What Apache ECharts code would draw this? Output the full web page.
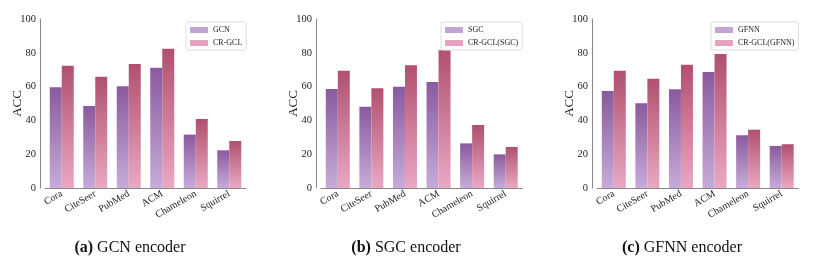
<!DOCTYPE html>
<html>
<head>
<meta charset="utf-8">
<script src="https://cdn.jsdelivr.net/npm/echarts@6/dist/echarts.min.js"></script>
<style>
html,body{margin:0;padding:0;background:#fff;}
#c{width:814px;height:264px;}
</style>
</head>
<body>
<div id="c"></div>
<script>
const categories = ['Cora', 'CiteSeer', 'PubMed', 'ACM', 'Chameleon', 'Squirrel'];
const yTicks = [0, 20, 40, 60, 80, 100];

const gcnBase = [59.6, 48.5, 60.2, 71.2, 31.6, 22.3];
const gcnOurs = [72.4, 65.9, 73.4, 82.4, 40.8, 27.8];
const sgcBase = [58.6, 48.1, 59.9, 62.7, 26.4, 19.9];
const sgcOurs = [69.4, 59.0, 72.6, 81.5, 37.3, 24.3];
const gfnnBase = [57.4, 50.1, 58.4, 68.6, 31.2, 24.9];
const gfnnOurs = [69.4, 64.7, 73.0, 79.3, 34.5, 25.9];

const baseNames = ['GCN', 'SGC', 'GFNN'];
const oursNames = ['CR-GCL', 'CR-GCL(SGC)', 'CR-GCL(GFNN)'];
const captionTags = ['(a)', '(b)', '(c)'];
const captionTexts = ['GCN encoder', 'SGC encoder', 'GFNN encoder'];

const panels = [
  {base: gcnBase, ours: gcnOurs, left: 45, right: 246, legendLeft: 186, legendW: 61, cap: 130},
  {base: sgcBase, ours: sgcOurs, left: 321, right: 522.5, legendLeft: 441, legendW: 83, cap: 406},
  {base: gfnnBase, ours: gfnnOurs, left: 597, right: 798.5, legendLeft: 711, legendW: 92, cap: 682}
];

const serif = '"Liberation Serif", "DejaVu Serif", serif';
const purpleGrad = () => new echarts.graphic.LinearGradient(0, 0, 0, 1, [
  {offset: 0, color: '#8a5a9e'}, {offset: 1, color: '#c7abd9'}]);
const pinkGrad = () => new echarts.graphic.LinearGradient(0, 0, 0, 1, [
  {offset: 0, color: '#b0506e'}, {offset: 1, color: '#eaa8c2'}]);

const grid = [], xAxis = [], yAxis = [], series = [], legend = [], graphic = [];
panels.forEach((p, i) => {
  grid.push({left: p.left, width: p.right - p.left, top: 19, height: 169});
  xAxis.push({
    type: 'category', gridIndex: i, data: categories,
    axisLine: {lineStyle: {color: '#888', width: 1}},
    axisTick: {show: false},
    axisLabel: {rotate: 30, color: '#222', fontFamily: serif, fontSize: 10, margin: 5, interval: 0}
  });
  yAxis.push({
    type: 'value', gridIndex: i, min: yTicks[0], max: yTicks[yTicks.length - 1], interval: 20,
    offset: 5,
    name: 'ACC', nameLocation: 'middle', nameGap: 16, nameMoveOverlap: false,
    nameTextStyle: {fontFamily: serif, fontSize: 13, color: '#222'},
    axisLine: {show: true, lineStyle: {color: '#888', width: 1}},
    axisTick: {show: false},
    splitLine: {show: false},
    axisLabel: {color: '#222', fontFamily: serif, fontSize: 10.5, margin: 4}
  });
  series.push({
    name: baseNames[i], type: 'bar', xAxisIndex: i, yAxisIndex: i, data: p.base,
    barWidth: 12, barGap: '0%', itemStyle: {color: purpleGrad()}
  });
  series.push({
    name: oursNames[i], type: 'bar', xAxisIndex: i, yAxisIndex: i, data: p.ours,
    barWidth: 12, barGap: '0%', itemStyle: {color: pinkGrad()}
  });
  legend.push({
    orient: 'vertical', left: p.legendLeft, top: 22, width: p.legendW,
    data: [
      {name: baseNames[i], itemStyle: {color: '#c3a4d6'}},
      {name: oursNames[i], itemStyle: {color: '#e7a3bd'}}
    ],
    icon: 'rect', itemWidth: 18, itemHeight: 6, itemGap: 5,
    padding: [4, 4, 3, 4],
    backgroundColor: '#fff', borderColor: '#ddd', borderWidth: 1, borderRadius: 2,
    textStyle: {fontFamily: serif, fontSize: 8, color: '#222'}
  });
  graphic.push({
    type: 'text', x: p.cap, y: 240,
    style: {
      text: '{b|' + captionTags[i] + '} ' + captionTexts[i],
      font: '16px ' + serif, fill: '#111', textAlign: 'center',
      rich: {b: {fontWeight: 'bold', fontFamily: serif, fontSize: 16, fill: '#111'}}
    }
  });
});

const chart = echarts.init(document.getElementById('c'), null, {renderer: 'canvas'});
chart.setOption({
  animation: false,
  backgroundColor: '#fff',
  grid, xAxis, yAxis, series, legend, graphic
});
</script>
</body>
</html>
